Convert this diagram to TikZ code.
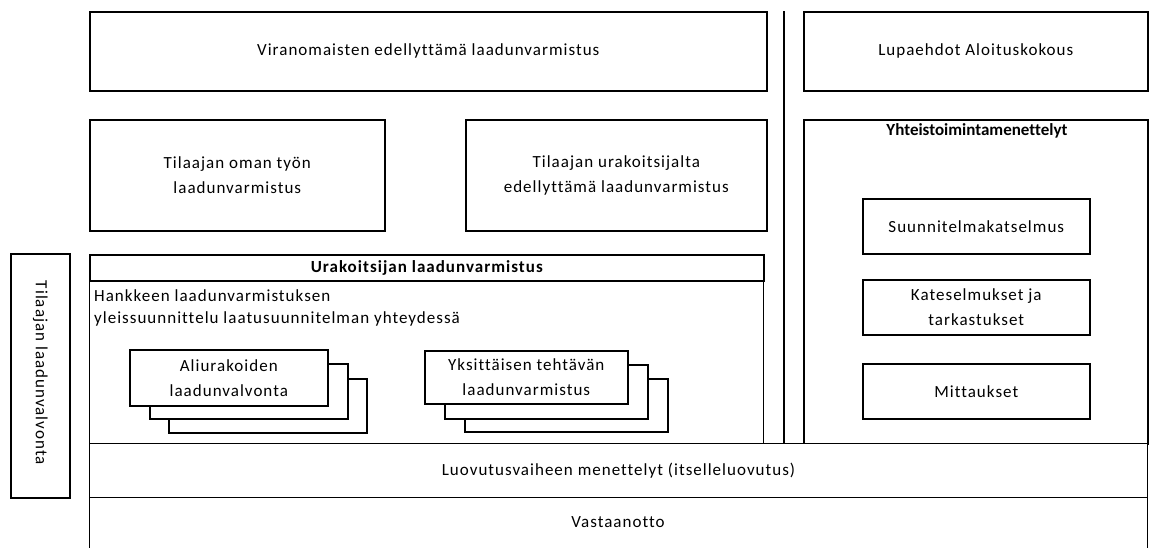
\documentclass[tikz,border=0pt]{standalone}
\usepackage{fontspec}
\setmainfont{Carlito}[LetterSpace=6, Ligatures={NoCommon}]
\begin{document}
\begin{tikzpicture}[x=1pt,y=-1pt,
  every node/.style={font=\fontsize{17}{25}\selectfont, inner sep=0pt, align=center},
  box/.style={draw, line width=1.6pt, fill=white, anchor=north west},
  thinbox/.style={draw, line width=1pt, fill=white, anchor=north west},
  headtext/.style={font=\fontsize{17}{25}\selectfont\bfseries}]
\useasboundingbox (0,0) rectangle (1149,547);

% top row
\node[box, minimum width=677pt, minimum height=79pt] (viran) at (89,11) {Viranomaisten edellyttämä laadunvarmistus};
\node[box, minimum width=344pt, minimum height=79pt] (lupa) at (803,11) {Lupaehdot Aloituskokous};

% divider between the two columns
\coordinate (divtop) at (784,11);
\coordinate (divbot) at (784,443);
\draw[line width=1.4pt] (divtop) -- (divbot);

% second row
\node[box, minimum width=295pt, minimum height=111pt] (oma) at (89,119) {Tilaajan oman työn\\laadunvarmistus};
\node[box, minimum width=301pt, minimum height=111pt] (urak) at (465,119) {Tilaajan urakoitsijalta\\edellyttämä laadunvarmistus};

% cooperation procedures
\node[box, minimum width=344pt, minimum height=324pt] (yht) at (803,119) {};
\node[headtext, anchor=center] (yhtt) at (977,131) {\addfontfeatures{LetterSpace=0}Yhteistoimintamenettelyt};
\node[box, minimum width=227pt, minimum height=55pt] (suun) at (862,198) {Suunnitelmakatselmus};
\node[box, minimum width=227pt, minimum height=55pt] (kate) at (862,279) {Kateselmukset ja\\tarkastukset};
\node[box, minimum width=227pt, minimum height=55pt] (mitt) at (862,363) {Mittaukset};

% contractor's quality assurance
\node[thinbox, minimum width=674pt, minimum height=163pt] (urk) at (89,280) {};
\node[box, minimum width=674pt, minimum height=26pt, headtext] (urkt) at (89,254) {Urakoitsijan laadunvarmistus};
\node[anchor=west] (hank1) at (94,296) {Hankkeen laadunvarmistuksen};
\node[anchor=west] (hank2) at (94,319) {yleissuunnittelu laatusuunnitelman yhteydessä};

% stacked task boxes
\node[box, minimum width=198pt, minimum height=54pt] (ali3) at (168,378) {};
\node[box, minimum width=198pt, minimum height=55pt] (ali2) at (149,363) {};
\node[box, minimum width=198pt, minimum height=56pt] (ali1) at (129,349) {Aliurakoiden\\laadunvalvonta};
\node[box, minimum width=203pt, minimum height=53pt] (yks3) at (464,378) {};
\node[box, minimum width=203pt, minimum height=54pt] (yks2) at (444,364) {};
\node[box, minimum width=203pt, minimum height=53pt] (yks1) at (424,350) {Yksittäisen tehtävän\\laadunvarmistus};

% client's quality control (vertical)
\node[box, minimum width=59pt, minimum height=244pt] (tilv) at (10,253) {};
\node[rotate=-90] (tilvt) at ([yshift=3pt]tilv.center) {Tilaajan laadunvalvonta};

% handover and acceptance
\node[thinbox, minimum width=1058pt, minimum height=54pt] (luov) at (89,443) {Luovutusvaiheen menettelyt (itselleluovutus)};
\node[thinbox, minimum width=1058pt, minimum height=56pt] (vast) at (89,497) {};
\node (vastt) at (618,522) {Vastaanotto};
\end{tikzpicture}
\end{document}
